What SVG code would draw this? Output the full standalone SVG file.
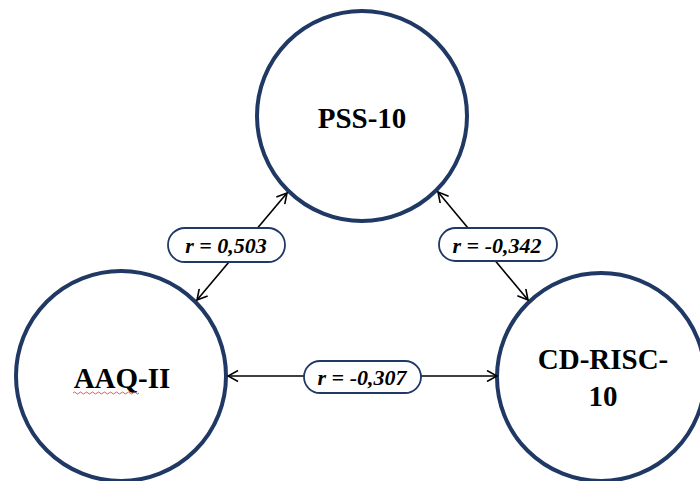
<svg xmlns="http://www.w3.org/2000/svg" width="700" height="481" viewBox="0 0 700 481">
<style>
.node{fill:#fff;stroke:#1f3864;stroke-width:4}
.ntext{font-family:"Liberation Serif","Times New Roman",serif;font-weight:bold;font-size:29px;fill:#000;text-anchor:middle}
.conn{stroke:#000;stroke-width:1.6;fill:none;marker-start:url(#arr);marker-end:url(#arr)}
.pill{fill:#fff;stroke:#1f3864;stroke-width:1.8}
.ltext{font-family:"Liberation Serif","Times New Roman",serif;font-weight:bold;font-style:italic;font-size:22px;fill:#000;text-anchor:middle}
</style>
<defs>
<marker id="arr" viewBox="0 0 12 12" refX="11" refY="6" markerWidth="12" markerHeight="12" markerUnits="userSpaceOnUse" orient="auto-start-reverse">
<path d="M1,0.5 L11,6 L1,11.5" fill="none" stroke="#000" stroke-width="1.6"/>
</marker>
</defs>
<rect width="700" height="481" fill="#fff"/>
<g id="pss10">
<circle class="node" cx="362" cy="116" r="105"/>
<text class="ntext" x="362" y="128">PSS-10</text>
</g>
<g id="aaq2">
<circle class="node" cx="121" cy="376" r="105"/>
<text class="ntext" x="122" y="388">AAQ-II</text>
<path d="M73,393 q1.5,-2 3,0 t3,0 t3,0 t3,0 t3,0 t3,0 t3,0 t3,0 t3,0 t3,0 t3,0 t3,0 t3,0 t3,0 t3,0 t3,0 t3,0 t3,0 t3,0 t3,0 t3,0 t3,0" fill="none" stroke="#e03030" stroke-width="0.8"/>
</g>
<g id="cdrisc10">
<circle class="node" cx="601" cy="377" r="104"/>
<text class="ntext" x="603" y="369">CD-RISC-</text>
<text class="ntext" x="603" y="406">10</text>
</g>
<g id="connectors">
<line class="conn" x1="197" y1="300" x2="287" y2="193"/>
<line class="conn" x1="438" y1="192" x2="528" y2="300"/>
<line class="conn" x1="228" y1="376" x2="497" y2="376"/>
<g id="lab1">
<rect class="pill" x="168" y="228" width="117" height="34" rx="17"/>
<text class="ltext" x="226" y="253">r = 0,503</text>
</g>
<g id="lab2">
<rect class="pill" x="439" y="228" width="118" height="33" rx="16.5"/>
<text class="ltext" x="497" y="253">r = -0,342</text>
</g>
<g id="lab3">
<rect class="pill" x="304" y="361" width="117" height="32" rx="16"/>
<text class="ltext" x="362" y="385">r = -0,307</text>
</g>
</g>
</svg>
